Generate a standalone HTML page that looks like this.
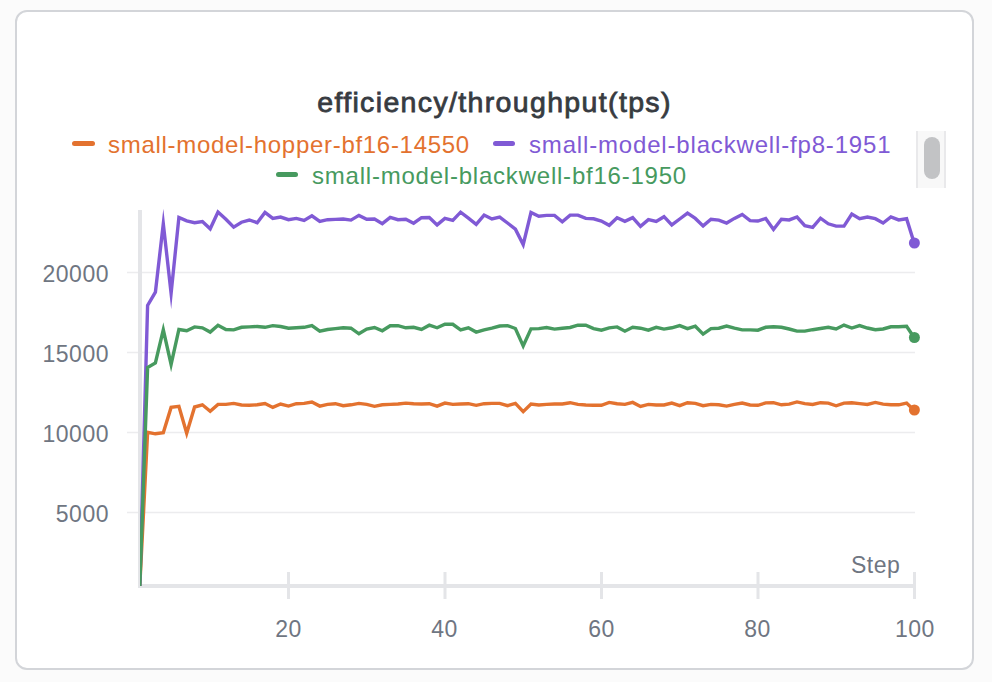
<!DOCTYPE html>
<html><head><meta charset="utf-8">
<style>
html,body{margin:0;padding:0;}
body{width:992px;height:682px;background:#fbfbfb;position:relative;overflow:hidden;font-family:"Liberation Sans",sans-serif;}
.card{position:absolute;left:15px;top:10px;width:955px;height:656px;border:2px solid #d3d5d9;border-radius:12px;background:#fff;}
.t{position:absolute;white-space:nowrap;}
.title{left:0;top:86px;width:989px;text-align:center;font-weight:normal;font-size:28.5px;letter-spacing:1.35px;-webkit-text-stroke:0.8px #373b41;color:#373b41;}
.leg{font-size:24px;letter-spacing:0.7px;}
.sw{position:absolute;height:5px;border-radius:3px;}
.lbl{font-size:23px;letter-spacing:0.5px;color:#6f7682;}
</style></head><body>
<div class="card"></div>
<div class="t title">efficiency/throughput(tps)</div>
<div class="sw" style="left:72px;top:141px;width:23px;background:#e3722f"></div>
<div class="t leg" style="left:108px;top:131px;color:#e3722f">small-model-hopper-bf16-14550</div>
<div class="sw" style="left:493px;top:141px;width:22px;background:#805ad5"></div>
<div class="t leg" style="left:529px;top:131px;color:#805ad5;letter-spacing:0.83px">small-model-blackwell-fp8-1951</div>
<div class="sw" style="left:276px;top:172px;width:22px;background:#479a5f"></div>
<div class="t leg" style="left:312px;top:162px;color:#479a5f;letter-spacing:0.78px">small-model-blackwell-bf16-1950</div>
<div style="position:absolute;left:916px;top:131px;width:26px;height:57px;background:#f8f8f8;border-left:2px solid #e9e9eb;border-right:2px solid #e9e9eb;"></div>
<div style="position:absolute;left:924px;top:137px;width:16px;height:42px;background:#c2c3c5;border-radius:8px;"></div>
<svg style="position:absolute;left:0;top:0" width="992" height="682" viewBox="0 0 992 682">
<g stroke="#ececee" stroke-width="1.5">
<line x1="127" y1="272.5" x2="915" y2="272.5"/>
<line x1="127" y1="352.5" x2="915" y2="352.5"/>
<line x1="127" y1="432.5" x2="915" y2="432.5"/>
<line x1="127" y1="512.5" x2="915" y2="512.5"/>
</g>
<rect x="138" y="210" width="4" height="378" fill="#e4e5e8"/>
<rect x="138" y="584" width="777" height="4" fill="#e4e5e8"/>
<g fill="#e4e5e8">
<rect x="287" y="572" width="3" height="27"/>
<rect x="443.5" y="572" width="3" height="27"/>
<rect x="600" y="572" width="3" height="27"/>
<rect x="756.5" y="572" width="3" height="27"/>
<rect x="913" y="572" width="3" height="27"/>
</g>
<defs><clipPath id="pc"><rect x="140" y="195" width="800" height="392"/></clipPath></defs>
<g fill="none" stroke-width="3.4" stroke-linejoin="miter" stroke-miterlimit="30" clip-path="url(#pc)">
<path d="M139.8,586.00 L147.6,432.30 L155.4,433.80 L163.3,432.80 L171.1,407.40 L178.9,406.30 L186.7,433.30 L194.6,407.00 L202.4,404.80 L210.2,411.30 L218.0,404.40 L225.9,404.40 L233.7,403.40 L241.5,405.00 L249.3,405.30 L257.2,404.80 L265.0,403.50 L272.8,407.40 L280.6,404.00 L288.5,406.10 L296.3,403.70 L304.1,403.40 L311.9,402.10 L319.8,406.10 L327.6,404.40 L335.4,403.70 L343.2,405.70 L351.0,404.80 L358.9,403.40 L366.7,404.40 L374.5,406.30 L382.3,404.80 L390.2,404.40 L398.0,404.00 L405.8,403.10 L413.6,403.70 L421.5,404.00 L429.3,403.70 L437.1,406.10 L444.9,403.10 L452.8,404.40 L460.6,404.00 L468.4,403.70 L476.2,405.30 L484.1,403.70 L491.9,403.40 L499.7,403.40 L507.5,405.70 L515.4,403.40 L523.2,411.60 L531.0,404.00 L538.8,405.00 L546.6,404.40 L554.5,404.00 L562.3,404.00 L570.1,402.70 L577.9,404.40 L585.8,405.00 L593.6,405.30 L601.4,405.30 L609.2,402.40 L617.1,403.70 L624.9,404.40 L632.7,402.40 L640.5,406.40 L648.4,404.40 L656.2,405.00 L664.0,405.00 L671.8,403.10 L679.7,405.70 L687.5,402.70 L695.3,403.40 L703.1,405.70 L711.0,404.40 L718.8,404.80 L726.6,406.10 L734.4,404.40 L742.2,403.10 L750.1,405.00 L757.9,405.30 L765.7,402.90 L773.5,402.70 L781.4,404.80 L789.2,404.10 L797.0,401.90 L804.8,403.60 L812.7,404.50 L820.5,402.70 L828.3,403.10 L836.1,405.80 L844.0,403.10 L851.8,402.70 L859.6,403.60 L867.4,404.50 L875.3,402.40 L883.1,404.10 L890.9,404.80 L898.7,404.80 L906.6,403.10 L914.4,410.60" stroke="#e3722f"/>
<path d="M139.8,586.00 L147.6,305.40 L155.4,292.20 L163.3,223.70 L171.1,293.30 L178.9,217.40 L186.7,220.90 L194.6,222.70 L202.4,221.50 L210.2,228.80 L218.0,212.10 L225.9,219.20 L233.7,227.10 L241.5,222.20 L249.3,220.00 L257.2,222.70 L265.0,212.50 L272.8,218.40 L280.6,217.10 L288.5,219.70 L296.3,218.40 L304.1,220.40 L311.9,215.80 L319.8,221.40 L327.6,219.70 L335.4,219.40 L343.2,219.00 L351.0,220.10 L358.9,215.40 L366.7,219.30 L374.5,219.00 L382.3,223.60 L390.2,217.40 L398.0,219.70 L405.8,219.30 L413.6,223.20 L421.5,217.70 L429.3,217.50 L437.1,224.90 L444.9,218.40 L452.8,220.40 L460.6,212.20 L468.4,218.20 L476.2,224.30 L484.1,215.10 L491.9,219.00 L499.7,217.10 L507.5,223.00 L515.4,229.20 L523.2,244.60 L531.0,212.50 L538.8,216.20 L546.6,215.40 L554.5,215.40 L562.3,221.70 L570.1,215.10 L577.9,215.10 L585.8,218.40 L593.6,218.80 L601.4,221.00 L609.2,225.30 L617.1,217.70 L624.9,221.40 L632.7,217.70 L640.5,226.30 L648.4,219.70 L656.2,221.40 L664.0,216.70 L671.8,224.90 L679.7,219.00 L687.5,213.20 L695.3,218.40 L703.1,225.90 L711.0,219.30 L718.8,220.10 L726.6,223.00 L734.4,218.40 L742.2,214.50 L750.1,220.60 L757.9,221.00 L765.7,218.50 L773.5,229.50 L781.4,219.20 L789.2,219.90 L797.0,217.00 L804.8,225.60 L812.7,227.30 L820.5,218.20 L828.3,223.80 L836.1,226.10 L844.0,226.10 L851.8,214.10 L859.6,218.70 L867.4,217.00 L875.3,218.70 L883.1,223.00 L890.9,217.00 L898.7,219.90 L906.6,218.70 L914.4,243.70" stroke="#805ad5"/>
<path d="M139.8,586.00 L147.6,367.50 L155.4,362.90 L163.3,329.80 L171.1,364.40 L178.9,329.50 L186.7,330.80 L194.6,326.90 L202.4,327.80 L210.2,332.10 L218.0,325.20 L225.9,329.50 L233.7,329.90 L241.5,327.30 L249.3,326.90 L257.2,326.50 L265.0,327.30 L272.8,325.60 L280.6,326.50 L288.5,328.20 L296.3,327.80 L304.1,327.30 L311.9,325.60 L319.8,331.20 L327.6,329.50 L335.4,328.60 L343.2,327.80 L351.0,328.20 L358.9,333.80 L366.7,329.10 L374.5,327.50 L382.3,330.80 L390.2,325.80 L398.0,325.60 L405.8,327.80 L413.6,327.30 L421.5,329.50 L429.3,325.20 L437.1,327.80 L444.9,324.30 L452.8,324.30 L460.6,329.90 L468.4,327.80 L476.2,332.10 L484.1,329.90 L491.9,328.20 L499.7,326.00 L507.5,325.60 L515.4,328.50 L523.2,345.90 L531.0,328.80 L538.8,328.60 L546.6,327.50 L554.5,329.10 L562.3,328.20 L570.1,327.50 L577.9,325.20 L585.8,325.20 L593.6,328.60 L601.4,330.20 L609.2,327.80 L617.1,326.90 L624.9,331.20 L632.7,327.30 L640.5,328.20 L648.4,330.20 L656.2,327.30 L664.0,329.10 L671.8,327.80 L679.7,325.60 L687.5,328.60 L695.3,326.20 L703.1,334.10 L711.0,328.60 L718.8,328.20 L726.6,326.00 L734.4,328.20 L742.2,329.90 L750.1,329.90 L757.9,330.20 L765.7,327.30 L773.5,326.80 L781.4,327.30 L789.2,329.00 L797.0,331.10 L804.8,331.10 L812.7,329.70 L820.5,328.50 L828.3,327.30 L836.1,329.00 L844.0,325.10 L851.8,328.00 L859.6,325.60 L867.4,328.00 L875.3,329.70 L883.1,329.00 L890.9,326.80 L898.7,326.80 L906.6,326.30 L914.4,338.00" stroke="#479a5f"/>
</g>
<circle cx="914.4" cy="410.0" r="5.5" fill="#e3722f"/>
<circle cx="914.4" cy="337.5" r="5.5" fill="#479a5f"/>
<circle cx="914.4" cy="243.0" r="5.5" fill="#805ad5"/>
</svg>
<div class="t lbl" style="right:883px;top:261px">20000</div>
<div class="t lbl" style="right:883px;top:341px">15000</div>
<div class="t lbl" style="right:883px;top:421px">10000</div>
<div class="t lbl" style="right:883px;top:501px">5000</div>
<div class="t lbl" style="left:275px;top:616px;width:27px;text-align:center">20</div>
<div class="t lbl" style="left:431px;top:616px;width:27px;text-align:center">40</div>
<div class="t lbl" style="left:588px;top:616px;width:27px;text-align:center">60</div>
<div class="t lbl" style="left:744px;top:616px;width:27px;text-align:center">80</div>
<div class="t lbl" style="left:895px;top:616px">100</div>
<div class="t lbl" style="left:851px;top:552px">Step</div>
</body></html>
